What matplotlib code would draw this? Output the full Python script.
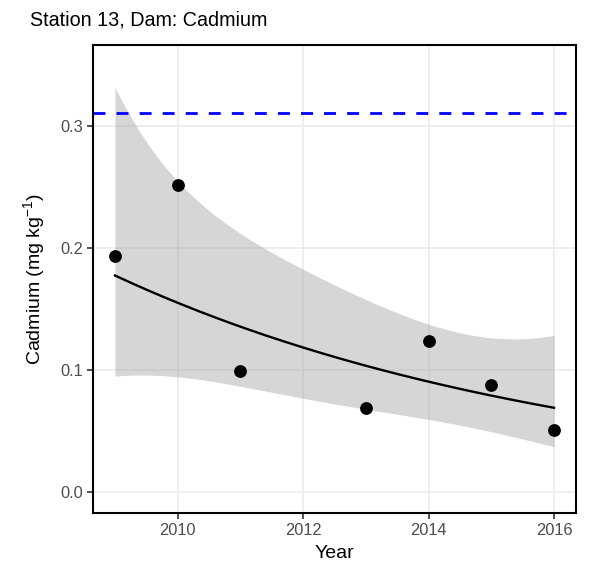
import numpy as np
import matplotlib
matplotlib.use("Agg")
import matplotlib.pyplot as plt

plt.rcParams['font.family'] = ['Liberation Sans', 'DejaVu Sans']
plt.rcParams['mathtext.fontset'] = 'custom'
plt.rcParams['mathtext.rm'] = 'Liberation Sans'
plt.rcParams['mathtext.it'] = 'Liberation Sans:italic'

# observed values
years = [2009, 2010, 2011, 2013, 2014, 2015, 2016]
cadmium = [0.193, 0.251, 0.099, 0.069, 0.124, 0.0875, 0.051]
threshold = 0.31

# fitted trend (log-link model) and its 95% band
trend_years = [2009, 2010, 2011, 2012, 2013, 2014, 2015, 2016]
trend_fit = [0.179, 0.156, 0.135, 0.116, 0.102, 0.091, 0.080, 0.069]
trend_low = [0.096, 0.093, 0.085, 0.076, 0.067, 0.059, 0.0515, 0.037]
trend_high = [0.336, 0.248, 0.212, 0.179, 0.154, 0.1385, 0.131, 0.128]

x_ticks = [2010, 2012, 2014, 2016]
y_ticks = [0.0, 0.1, 0.2, 0.3]
title = "Station 13, Dam: Cadmium"
x_label = "Year"
y_label = r"Cadmium (mg kg$^{-1}$)"

# smooth the trend on the link (log) scale
ty = np.array(trend_years, dtype=float)
eta_coef = np.polyfit(ty - 2012.5, np.log(trend_fit), 1)
half = (np.log(trend_high) - np.log(trend_low)) / 2.0
half_coef = np.polyfit(ty - 2012.5, half ** 2, 4)
xs = np.linspace(ty.min(), ty.max(), 160)
eta = np.polyval(eta_coef, xs - 2012.5)
h = np.sqrt(np.polyval(half_coef, xs - 2012.5))

fig = plt.figure(figsize=(5.89, 5.72), dpi=100)
ax = fig.add_axes([93 / 589, 1 - 513.3 / 572, (576 - 93) / 589, (513.3 - 45) / 572])

ax.fill_between(xs, np.exp(eta - h), np.exp(eta + h), color='#999999', alpha=0.4, lw=0, zorder=2)
ax.plot(xs, np.exp(eta), color='black', lw=1.7, zorder=3)
ax.scatter(years, cadmium, s=85, color='black', zorder=5, linewidths=0)
ax.axhline(threshold, color='#0000FF', lw=2, ls=(0, (4.3, 4)), zorder=4)

ax.set_xlim(2008.65, 2016.35)
ax.set_ylim(-0.0174, 0.366)
ax.set_xticks(x_ticks)
ax.set_yticks(y_ticks)
ax.set_yticklabels([f"{v:.1f}" for v in y_ticks])
ax.grid(True, color='#EBEBEB', lw=1.2, zorder=0)
ax.set_axisbelow(True)
for s in ax.spines.values():
    s.set_color('black')
    s.set_linewidth(1.5)
ax.tick_params(axis='both', colors='#333333', length=4.5, width=1.2,
               labelsize=11.8, labelcolor='#4D4D4D', pad=2.5)
ax.set_xlabel(x_label, fontsize=14, labelpad=5)
ax.set_ylabel(y_label, fontsize=14, labelpad=9.5)
fig.text(30 / 589, 1 - 20 / 572, title, fontsize=14.2, ha='left', va='center')

fig.savefig("out.png", dpi=100)
